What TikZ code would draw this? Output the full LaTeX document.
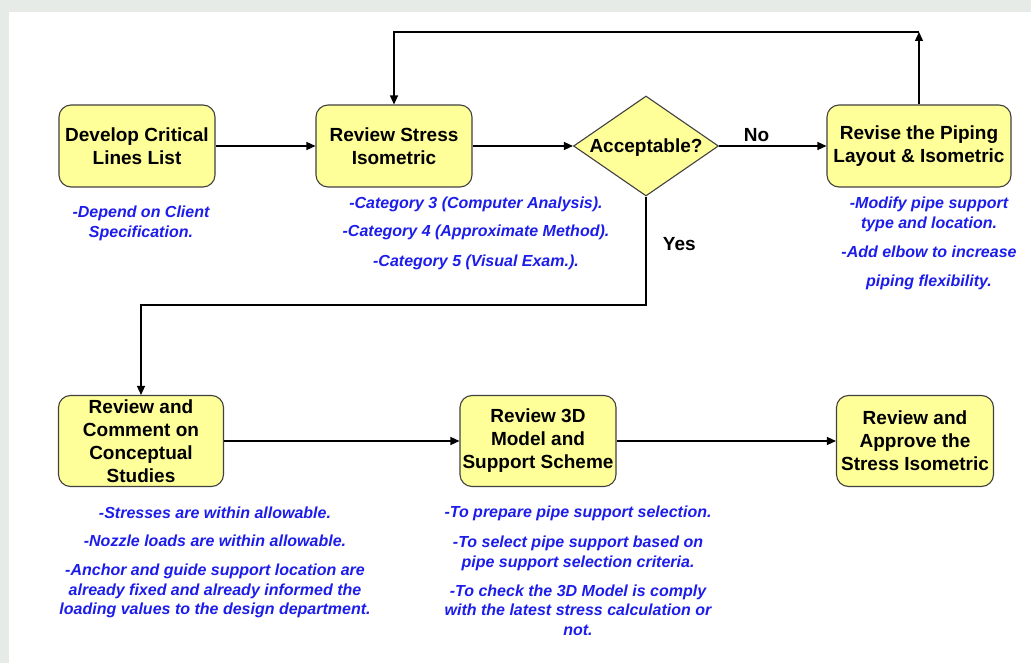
\documentclass[tikz,border=0pt]{standalone}
\usepackage{fontspec}
\setmainfont{Liberation Sans}
\usetikzlibrary{shapes.geometric,arrows.meta}
\definecolor{boxyellow}{RGB}{255,255,153}
\definecolor{noteblue}{RGB}{28,28,235}
\definecolor{pagegray}{RGB}{231,235,231}
\begin{document}
\begin{tikzpicture}[x=1pt,y=-1pt,
  stepbox/.style={draw=black!75,line width=1.1pt,fill=boxyellow,rounded corners=12pt,align=center,inner sep=0pt,font=\bfseries\fontsize{19}{23}\selectfont},
  decisionbox/.style={draw=black!75,line width=1.1pt,fill=boxyellow,diamond,shape aspect=1.45,inner sep=0pt,text depth=0pt,minimum width=145pt,minimum height=100pt,font=\bfseries\fontsize{19}{23}\selectfont},
  note/.style={text=noteblue,align=center,inner sep=0pt,anchor=north,font=\bfseries\itshape\fontsize{16}{19.5}\selectfont},
  flow/.style={-{Triangle[length=9pt,width=8pt]},line width=1.3pt},
  lbl/.style={font=\bfseries\fontsize{19}{23}\selectfont}]
\fill[pagegray] (0,0) rectangle (1031,663);
\fill[white] (9,12) rectangle (1031,663);
\useasboundingbox (0,0) rectangle (1031,663);

\node[stepbox,minimum width=156pt,minimum height=82pt] (develop) at (137,146) {Develop Critical\\Lines List};
\node[stepbox,minimum width=156pt,minimum height=82pt] (stress) at (394,146) {Review Stress\\Isometric};
\node[decisionbox] (accept) at (646,146) {Acceptable?};
\node[stepbox,minimum width=184pt,minimum height=82pt] (revise) at (919,146) {Revise the Piping\\Layout \& Isometric};
\node[stepbox,minimum width=165pt,minimum height=91pt] (comment) at (141,441) {Review and\\Comment on\\Conceptual\\Studies};
\node[stepbox,minimum width=156pt,minimum height=91pt] (model) at (538,441) {Review 3D\\Model and\\Support Scheme};
\node[stepbox,minimum width=157pt,minimum height=91pt] (approve) at (915,441) {Review and\\Approve the\\Stress Isometric};

\node[note] (dependnote) at (141,206) {-Depend on Client\\Specification.};
\node[note] (catnote) at (476,197) {-Category 3 (Computer Analysis).\\[8.5pt]-Category 4 (Approximate Method).\\[10.5pt]-Category 5 (Visual Exam.).};
\node[note] (modifynote) at (929,197) {-Modify pipe support\\type and location.\\[9.5pt]-Add elbow to increase\\[9.5pt]piping flexibility.};
\node[note] (stressnote) at (215,507) {-Stresses are within allowable.\\[8.5pt]-Nozzle loads are within allowable.\\[9.5pt]-Anchor and guide support location are\\already fixed and already informed the\\loading values to the design department.};
\node[note] (modelnote) at (578,506) {-To prepare pipe support selection.\\[10.5pt]-To select pipe support based on\\pipe support selection criteria.\\[9.5pt]-To check the 3D Model is comply\\with the latest stress calculation or\\not.};

\coordinate (looptop) at (919,32);
\coordinate (yesturn) at (646,305);
\draw[flow] (develop) -- (stress);
\draw[flow] (stress) -- (accept);
\draw[flow] (accept) -- node[lbl,above,pos=0.35] (nolabel) {No} (revise);
\draw[flow] (revise) -- (looptop);
\draw[flow] (looptop) -| (stress);
\draw[flow] (accept) -- node[lbl,right=13pt,pos=0.44] (yeslabel) {Yes} (yesturn) -| (comment);
\draw[flow] (comment) -- (model);
\draw[flow] (model) -- (approve);
\end{tikzpicture}
\end{document}
